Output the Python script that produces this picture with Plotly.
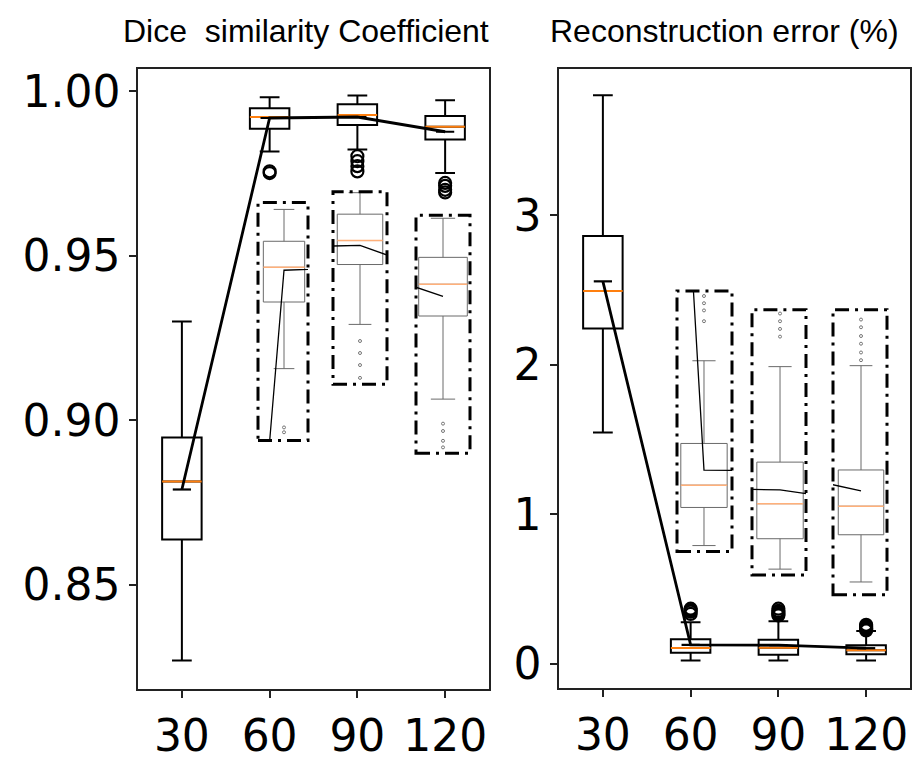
import plotly.graph_objects as go

# ---------------- data ----------------
positions = [1, 2, 3, 4]
tick_labels = ["30", "60", "90", "120"]

dice_q1 = [0.8638, 0.98865, 0.98984, 0.98536]
dice_median = [0.8814, 0.99223, 0.99283, 0.98924]
dice_q3 = [0.8948, 0.99492, 0.99612, 0.99253]
dice_low = [0.8270, 0.98177, 0.98237, 0.97520]
dice_high = [0.9301, 0.99821, 0.99880, 0.99731]
dice_mean = [0.8790, 0.99193, 0.99223, 0.98775]
dice_outliers = [[], [0.9752, 0.9757], [0.9757, 0.9773, 0.9788, 0.9803],
                 [0.9693, 0.9701, 0.9713, 0.9722]]

rec_q1 = [2.243, 0.076, 0.0625, 0.066]
rec_median = [2.494, 0.107, 0.108, 0.092]
rec_q3 = [2.862, 0.165, 0.162, 0.125]
rec_low = [1.549, 0.023, 0.023, 0.023]
rec_high = [3.803, 0.280, 0.286, 0.220]
rec_mean = [2.559, 0.128, 0.126, 0.106]
rec_outliers = [[], [0.335, 0.35, 0.36, 0.37], [0.325, 0.335, 0.345, 0.355, 0.37],
                [0.225, 0.232, 0.24, 0.247, 0.255, 0.262]]

titles = ["Dice  similarity Coefficient", "Reconstruction error (%)"]

# ---------------- layout helpers ----------------
W, H = 922, 761
BOXW = 0.45


def xd(a, b):
    return [a / W, b / W]


def yd(top, bottom):
    return [1 - bottom / H, 1 - top / H]


panels = [
    dict(q1=dice_q1, med=dice_median, q3=dice_q3, lo=dice_low, hi=dice_high,
         mean=dice_mean, out=dice_outliers),
    dict(q1=rec_q1, med=rec_median, q3=rec_q3, lo=rec_low, hi=rec_high,
         mean=rec_mean, out=rec_outliers),
]

fig = go.Figure()


def add_panel(p, xa, ya, inset):
    lc = "#6a6a6a" if inset else "black"
    lw = 1 if inset else 2
    fig.add_trace(go.Box(
        x=positions, q1=p["q1"], median=p["med"], q3=p["q3"],
        lowerfence=p["lo"], upperfence=p["hi"], width=BOXW,
        whiskerwidth=0.5, boxpoints=False, fillcolor="white",
        line=dict(color=lc, width=lw), xaxis=xa, yaxis=ya, hoverinfo="skip"))
    mx, my = [], []
    for pos, m in zip(positions, p["med"]):
        mx += [pos - BOXW / 2, pos + BOXW / 2, None]
        my += [m, m, None]
    fig.add_trace(go.Scatter(
        x=mx, y=my, mode="lines",
        line=dict(color="#ffb07a" if inset else "#ff7f0e", width=1.5 if inset else 2),
        xaxis=xa, yaxis=ya, hoverinfo="skip"))
    ox, oy = [], []
    for pos, vals in zip(positions, p["out"]):
        for v in vals:
            ox.append(pos)
            oy.append(v)
    fig.add_trace(go.Scatter(
        x=ox, y=oy, mode="markers",
        marker=dict(symbol="circle-open", size=3 if inset else 12,
                    color="#777" if inset else "black",
                    line=dict(width=1 if inset else 2.2)),
        xaxis=xa, yaxis=ya, hoverinfo="skip"))
    fig.add_trace(go.Scatter(
        x=positions, y=p["mean"],
        mode="lines" if inset else "lines+markers",
        line=dict(color="black", width=1.3 if inset else 2.8),
        marker=dict(symbol="line-ew", size=13, color="black",
                    line=dict(width=2.2, color="black")),
        xaxis=xa, yaxis=ya, hoverinfo="skip"))


axis_common = dict(showline=True, mirror=True, linecolor="#222", linewidth=1.5,
                   ticks="outside", ticklen=7, tickwidth=1.5, tickcolor="#222",
                   showgrid=False, zeroline=False,
                   tickfont=dict(family="DejaVu Sans", size=44, color="black"))

layout = dict(
    width=W, height=H, margin=dict(l=0, r=0, t=0, b=0),
    paper_bgcolor="white", plot_bgcolor="white", showlegend=False,
    xaxis=dict(domain=xd(138, 489), range=[0.5, 4.5], anchor="y",
               tickvals=positions, ticktext=tick_labels, **axis_common),
    yaxis=dict(domain=yd(67, 698), range=[0.81833, 1.00687], anchor="x",
               tickvals=[0.85, 0.90, 0.95, 1.00],
               ticktext=["0.85", "0.90", "0.95", "1.00"], **axis_common),
    xaxis2=dict(domain=xd(559, 910), range=[0.5, 4.5], anchor="y2",
                tickvals=positions, ticktext=tick_labels, **axis_common),
    yaxis2=dict(domain=yd(67, 697), range=[-0.161, 3.980], anchor="x2",
                tickvals=[0, 1, 2, 3], ticktext=["0", "1", "2", "3"], **axis_common),
)

add_panel(panels[0], "x", "y", False)
add_panel(panels[1], "x2", "y2", False)

# inset definitions: (panel, x px, y px, x range, y range)
insets = [
    (0, (258, 308), (203, 445), [1.717, 2.261], [0.97436, 0.99892]),
    (0, (333, 387), (192, 388), [2.733, 3.267], [0.97489, 0.99892]),
    (0, (416, 470), (216, 458), [3.750, 4.250], [0.96859, 0.99767]),
    (1, (677, 732), (293, 558), [1.738, 2.272], [0.0148, 0.377]),
    (1, (752, 806), (312, 582), [2.728, 3.252], [0.0153, 0.360]),
    (1, (833, 887), (312, 602), [3.723, 4.257], [0.0114, 0.271]),
]

shapes = []
for i, (pi, xp, yp, xr, yr) in enumerate(insets):
    n = i + 3
    layout[f"xaxis{n}"] = dict(domain=xd(*xp), range=xr, anchor=f"y{n}",
                               showline=False, showticklabels=False, ticks="",
                               showgrid=False, zeroline=False)
    layout[f"yaxis{n}"] = dict(domain=yd(*yp), range=yr, anchor=f"x{n}",
                               showline=False, showticklabels=False, ticks="",
                               showgrid=False, zeroline=False)
    add_panel(panels[pi], f"x{n}", f"y{n}", True)
    shapes.append(dict(type="rect", xref=f"x{n} domain", yref=f"y{n} domain",
                       x0=0, x1=1, y0=0, y1=1, layer="above",
                       line=dict(color="black", width=3, dash="14px,6px,3px,6px")))

layout["shapes"] = shapes
layout["annotations"] = [
    dict(text=titles[0], x=306 / W, y=1 - 28 / H, xref="paper", yref="paper",
         showarrow=False, xanchor="center", yanchor="middle",
         font=dict(family="Liberation Sans, Arial", size=32, color="black")),
    dict(text=titles[1], x=724 / W, y=1 - 28 / H, xref="paper", yref="paper",
         showarrow=False, xanchor="center", yanchor="middle",
         font=dict(family="Liberation Sans, Arial", size=32, color="black")),
]

fig.update_layout(**layout)
fig.write_html("out.html")
